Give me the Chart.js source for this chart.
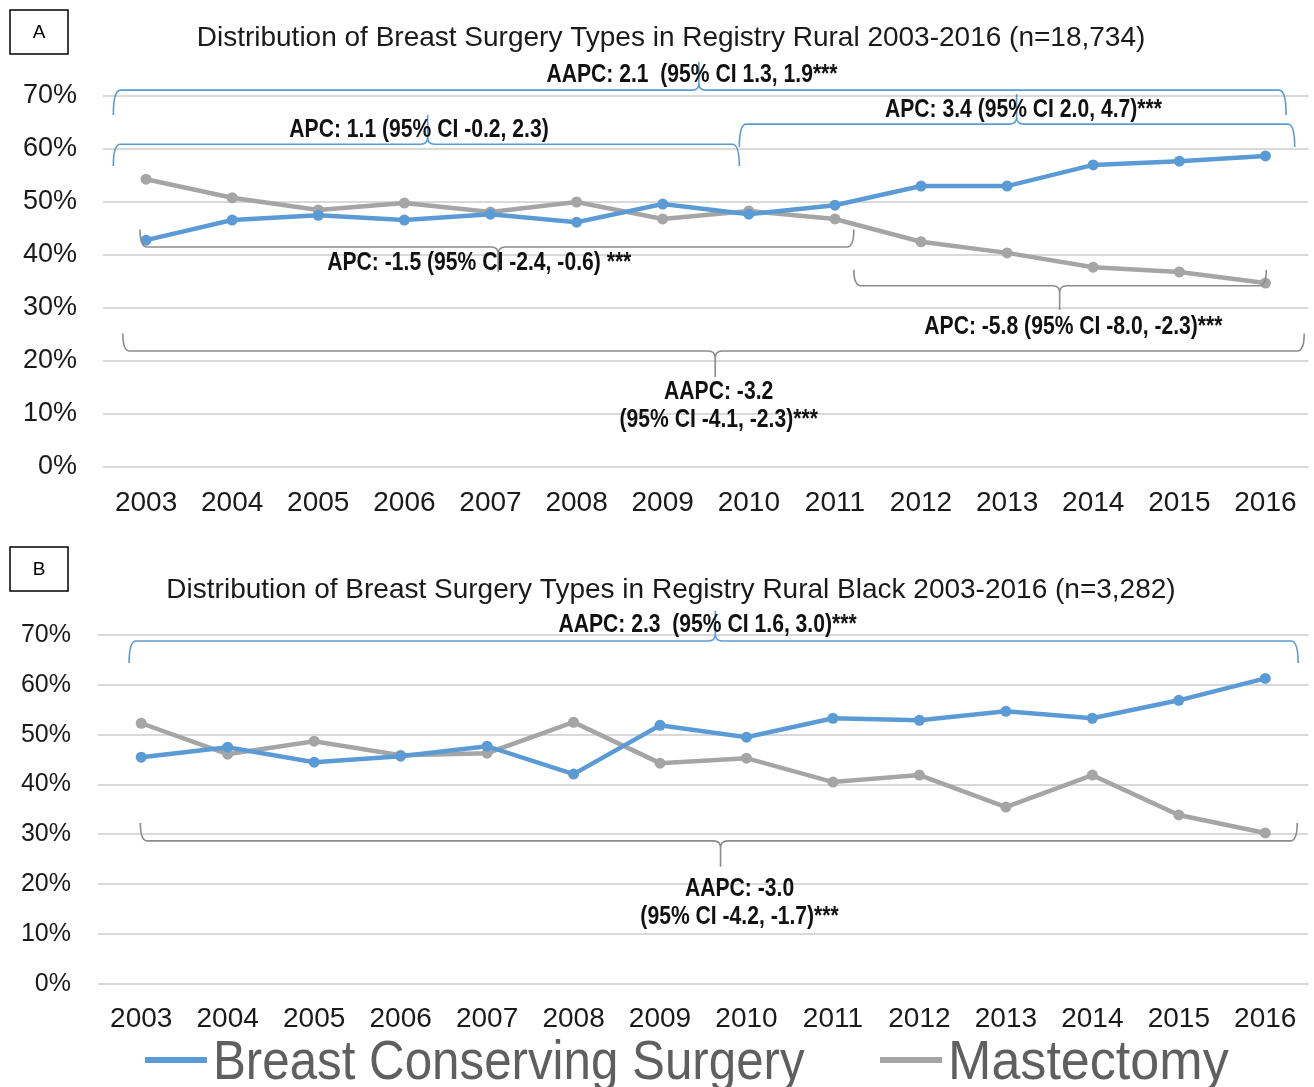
<!DOCTYPE html>
<html lang="en">
<head>
<meta charset="UTF-8">
<title>Distribution of Breast Surgery Types in Registry Rural</title>
<script src="https://cdn.jsdelivr.net/npm/chart.js"></script>
<style>
  body { margin: 0; background: #fff; }
  .panel { position: absolute; left: 0; }
</style>
</head>
<body>
<div class="panel" style="top:0"><canvas id="chartA" width="1314" height="530"></canvas></div>
<div class="panel" style="top:530px"><canvas id="chartB" width="1314" height="557"></canvas></div>

<script>
// data
const years = ['2003', '2004', '2005', '2006', '2007', '2008', '2009', '2010', '2011', '2012', '2013', '2014', '2015', '2016'];
const yTicks = [0, 10, 20, 30, 40, 50, 60, 70];

// panel A: Registry Rural (n=18,734)
const bcsRural  = [42.8, 46.6, 47.5, 46.6, 47.7, 46.2, 49.6, 47.7, 49.4, 53.0, 53.0, 57.0, 57.7, 58.7];
const mastRural = [54.3, 50.8, 48.5, 49.8, 48.1, 50.0, 46.8, 48.3, 46.8, 42.5, 40.4, 37.7, 36.8, 34.7];

// panel B: Registry Rural Black (n=3,282)
const bcsBlack  = [45.5, 47.5, 44.5, 45.7, 47.7, 42.1, 51.9, 49.5, 53.3, 52.9, 54.7, 53.3, 56.9, 61.3];
const mastBlack = [52.3, 46.1, 48.7, 45.9, 46.3, 52.5, 44.3, 45.3, 40.5, 41.9, 35.5, 41.9, 33.9, 30.3];

const BLUE = '#5b9bd5';
const GRAY = '#a5a5a5';
const BRACE_GRAY = '#8c8c8c';

// trend brackets, in category index (x) and percent (y)
const bracesA = [
  { from: -0.38, to: 13.24, mid: 6.42, line: 71.1, end: 66.4, tip: 76.4, color: BLUE,
    text: ['AAPC: 2.1  (95% CI 1.3, 1.9***'], tx: 6.34, ty: [74.0] },
  { from: -0.38, to: 6.89, mid: 3.27, line: 60.9, end: 56.8, tip: 66.4, color: BLUE,
    text: ['APC: 1.1 (95% CI -0.2, 2.3)'], tx: 3.17, ty: [63.6] },
  { from: 6.89, to: 13.34, mid: 10.11, line: 64.7, end: 60.4, tip: 70.4, color: BLUE,
    text: ['APC: 3.4 (95% CI 2.0, 4.7)***'], tx: 10.19, ty: [67.4] },
  { from: -0.07, to: 8.22, mid: 4.09, line: 41.5, end: 44.8, tip: 36.8, color: BRACE_GRAY,
    text: ['APC: -1.5 (95% CI -2.4, -0.6) ***'], tx: 3.87, ty: [38.5] },
  { from: 8.22, to: 13.01, mid: 10.61, line: 34.2, end: 37.2, tip: 29.6, color: BRACE_GRAY,
    text: ['APC: -5.8 (95% CI -8.0, -2.3)***'], tx: 10.77, ty: [26.4] },
  { from: -0.27, to: 13.45, mid: 6.61, line: 21.9, end: 25.2, tip: 17.0, color: BRACE_GRAY,
    text: ['AAPC: -3.2', '(95% CI -4.1, -2.3)***'], tx: 6.65, ty: [14.2, 8.9] }
];

const bracesB = [
  { from: -0.14, to: 13.38, mid: 6.64, line: 68.8, end: 64.4, tip: 74.8, color: BLUE,
    text: ['AAPC: 2.3  (95% CI 1.6, 3.0)***'], tx: 6.55, ty: [72.0] },
  { from: -0.01, to: 13.37, mid: 6.7, line: 28.7, end: 32.3, tip: 23.5, color: BRACE_GRAY,
    text: ['AAPC: -3.0', '(95% CI -4.2, -1.7)***'], tx: 6.92, ty: [19.1, 13.4] }
];

function drawBrace(ctx, x1, x2, xm, yLine, yEnd, yTip) {
  const r = 7;
  const d = Math.sign(yTip - yLine);
  ctx.beginPath();
  ctx.moveTo(x1, yEnd);
  ctx.quadraticCurveTo(x1, yLine, x1 + r, yLine);
  ctx.lineTo(xm - r, yLine);
  ctx.quadraticCurveTo(xm, yLine, xm, yLine + d * r);
  ctx.lineTo(xm, yTip);
  ctx.moveTo(xm, yLine + d * r);
  ctx.quadraticCurveTo(xm, yLine, xm + r, yLine);
  ctx.lineTo(x2 - r, yLine);
  ctx.quadraticCurveTo(x2, yLine, x2, yEnd);
  ctx.stroke();
}

// no condensed face installed, so squeeze the text horizontally
function narrowText(ctx, text, x, y, squeeze) {
  ctx.save();
  ctx.translate(x, y);
  ctx.scale(squeeze, 1);
  ctx.fillText(text, 0, 0);
  ctx.restore();
}

const bracePlugin = {
  id: 'braces',
  afterDatasetsDraw(chart, args, opts) {
    const ctx = chart.ctx;
    const xs = chart.scales.x, ys = chart.scales.y;
    ctx.save();
    opts.items.forEach(b => {
      ctx.strokeStyle = b.color;
      ctx.lineWidth = 1.6;
      drawBrace(ctx, xs.getPixelForValue(b.from), xs.getPixelForValue(b.to), xs.getPixelForValue(b.mid),
        ys.getPixelForValue(b.line), ys.getPixelForValue(b.end), ys.getPixelForValue(b.tip));
    });
    ctx.fillStyle = '#111';
    ctx.font = 'bold 25px "Liberation Sans", Arial, sans-serif';
    ctx.textAlign = 'center';
    ctx.textBaseline = 'middle';
    opts.items.forEach(b => {
      b.text.forEach((t, i) => {
        narrowText(ctx, t, xs.getPixelForValue(b.tx), ys.getPixelForValue(b.ty[i]), 0.845);
      });
    });
    ctx.restore();
  }
};

// title, A/B tag box and (on the lower panel) the legend
const panelPlugin = {
  id: 'panel',
  afterDraw(chart, args, opts) {
    const ctx = chart.ctx;
    ctx.save();
    ctx.strokeStyle = '#000';
    ctx.lineWidth = 1.5;
    ctx.strokeRect(10, opts.tagTop, 58, 44);
    ctx.fillStyle = '#000';
    ctx.font = '19px "Liberation Sans", Arial, sans-serif';
    ctx.textAlign = 'center';
    ctx.textBaseline = 'middle';
    ctx.fillText(opts.tag, 39, opts.tagTop + 23);

    ctx.fillStyle = '#1a1a1a';
    ctx.font = '28px "Liberation Sans", Arial, sans-serif';
    ctx.fillText(opts.title, 671, opts.titleY);

    if (opts.legend) {
      const xs = [145, 880];
      ctx.textAlign = 'left';
      ctx.font = '56px "Liberation Sans", Arial, sans-serif';
      chart.data.datasets.forEach((ds, i) => {
        ctx.strokeStyle = ds.borderColor;
        ctx.lineWidth = 6;
        ctx.beginPath();
        ctx.moveTo(xs[i], opts.legendY);
        ctx.lineTo(xs[i] + 62, opts.legendY);
        ctx.stroke();
        ctx.fillStyle = '#5f5f5f';
        narrowText(ctx, ds.label, xs[i] + 68, opts.legendY + 4, i === 0 ? 0.88 : 0.93);
      });
    }
    ctx.restore();
  }
};

function makeChart(id, bcs, mast, cfg) {
  const tickFont = { family: '"Liberation Sans", Arial, sans-serif', size: 28 };
  return new Chart(document.getElementById(id), {
    type: 'line',
    data: {
      labels: years,
      datasets: [
        { label: 'Breast Conserving Surgery', data: bcs, borderColor: BLUE, backgroundColor: BLUE,
          borderWidth: 4.5, pointRadius: 5.5, pointBorderWidth: 0, tension: 0 },
        { label: 'Mastectomy', data: mast, borderColor: GRAY, backgroundColor: GRAY,
          borderWidth: 4.5, pointRadius: 5.5, pointBorderWidth: 0, tension: 0 }
      ]
    },
    options: {
      responsive: false,
      animation: false,
      layout: { padding: { top: cfg.top, right: 4, left: 0, bottom: 0 } },
      plugins: {
        legend: { display: false },
        tooltip: { enabled: false },
        braces: { items: cfg.braces },
        panel: cfg.panel
      },
      scales: {
        x: {
          offset: true,
          grid: { display: false },
          border: { display: false },
          ticks: { color: '#1a1a1a', font: tickFont, padding: cfg.xPad, maxRotation: 0 },
          afterFit(s) { s.height = cfg.xHeight; }
        },
        y: {
          min: 0,
          max: 70,
          afterBuildTicks(s) { s.ticks = yTicks.map(v => ({ value: v })); },
          ticks: { color: '#1a1a1a', font: { family: tickFont.family, size: cfg.yFont },
                   padding: cfg.yPad, callback: v => v + '%' },
          grid: { color: '#d9d9d9', lineWidth: 2, drawTicks: false },
          border: { display: false },
          afterFit(s) { s.width = cfg.yWidth; }
        }
      }
    },
    plugins: [bracePlugin, panelPlugin]
  });
}

makeChart('chartA', bcsRural, mastRural, {
  top: 96, xHeight: 63, xPad: 11, yWidth: 103, yPad: 26, yFont: 27,
  braces: bracesA,
  panel: { tag: 'A', tagTop: 10, titleY: 38,
           title: 'Distribution of Breast Surgery Types in Registry Rural 2003-2016 (n=18,734)' }
});

makeChart('chartB', bcsBlack, mastBlack, {
  top: 105, xHeight: 103, xPad: 10, yWidth: 98, yPad: 27, yFont: 25,
  braces: bracesB,
  panel: { tag: 'B', tagTop: 17, titleY: 60, legend: true, legendY: 530,
           title: 'Distribution of Breast Surgery Types in Registry Rural Black 2003-2016 (n=3,282)' }
});
</script>
</body>
</html>
